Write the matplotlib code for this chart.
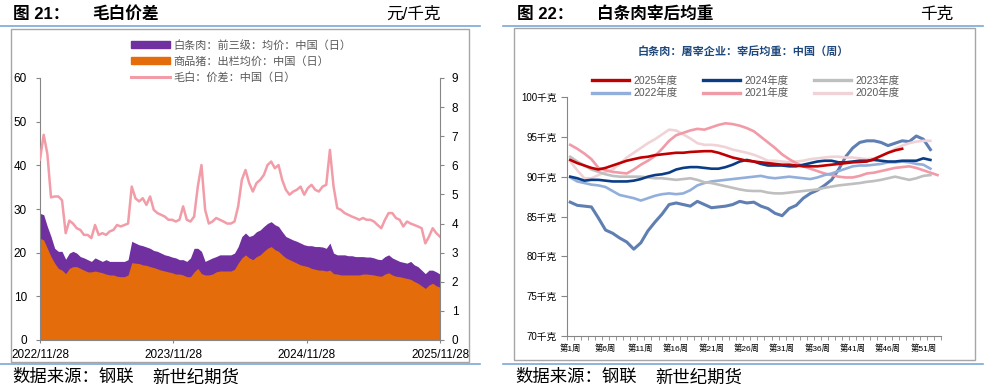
import matplotlib
matplotlib.use('Agg')
import matplotlib.pyplot as plt
import matplotlib.dates as mdates
import matplotlib.patches as mpatches
from matplotlib.lines import Line2D
import numpy as np
import pandas as pd

plt.rcParams['font.family'] = ['Liberation Sans', 'Noto Sans CJK SC']

# ---------------- data: left chart (元/千克) ----------------
start_date, end_date = '2022-11-28', '2025-11-28'
meat_price = [29.0, 28.7, 26.0, 23.7, 21.0, 20.3, 20.3, 18.5, 19.9, 20.3,
              19.9, 19.1, 18.8, 18.4, 18.0, 18.8, 18.4, 18.0, 18.4, 18.0,
              18.0, 18.0, 18.0, 18.0, 18.4, 22.6, 22.2, 21.8, 21.6, 21.3,
              21.0, 20.5, 20.3, 19.9, 19.5, 19.3, 19.0, 18.8, 18.4, 18.4,
              18.0, 18.8, 21.0, 21.0, 20.3, 18.0, 18.4, 18.8, 19.1, 19.5,
              19.5, 19.5, 19.5, 19.9, 21.4, 23.7, 24.5, 23.7, 24.0, 24.8,
              25.2, 26.0, 26.7, 27.1, 26.4, 26.0, 24.8, 23.7, 23.3, 22.9,
              22.6, 22.2, 21.8, 21.6, 21.6, 21.4, 21.4, 21.3, 21.0, 22.2,
              19.9, 19.5, 19.5, 19.5, 19.3, 19.3, 19.1, 19.1, 19.1, 19.0,
              19.0, 18.8, 18.5, 18.4, 19.1, 19.5, 18.8, 18.4, 18.0, 17.8,
              17.6, 18.0, 17.2, 16.8, 16.0, 15.2, 16.0, 16.0, 15.6, 15.1]
hog_price = [23.3, 22.9, 21.0, 19.1, 17.6, 16.4, 16.0, 15.2, 16.4, 16.8,
             16.8, 16.4, 16.0, 15.6, 15.6, 15.8, 15.6, 15.4, 15.1, 14.9,
             14.9, 14.6, 14.5, 14.5, 14.9, 17.7, 17.6, 17.5, 17.2, 17.1,
             16.8, 16.6, 16.3, 16.0, 15.8, 15.6, 15.4, 15.1, 15.1, 14.9,
             14.5, 14.5, 15.6, 16.4, 15.2, 14.9, 14.9, 15.1, 15.6, 15.8,
             15.8, 15.8, 15.8, 16.2, 17.6, 18.8, 19.5, 18.8, 18.4, 19.1,
             19.5, 20.3, 21.0, 21.4, 20.7, 20.3, 19.5, 18.8, 18.4, 18.0,
             17.6, 17.2, 17.0, 16.8, 16.4, 16.2, 16.0, 16.0, 15.8, 16.0,
             15.2, 15.1, 14.9, 14.9, 14.9, 14.9, 14.9, 14.9, 15.1, 15.1,
             15.0, 14.9, 14.7, 14.6, 15.1, 15.4, 14.9, 14.6, 14.5, 14.3,
             14.1, 13.9, 13.4, 13.0, 12.4, 11.8, 12.6, 13.0, 12.4, 12.1]
spread = [6.2, 7.05, 6.4, 4.9, 4.93, 4.93, 4.8, 3.67, 4.1, 4.0,
          3.84, 3.78, 3.61, 3.61, 3.5, 3.95, 3.61, 3.67, 3.61, 3.73,
          3.78, 3.95, 3.9, 3.95, 4.0, 5.27, 4.87, 4.76, 4.87, 4.64,
          4.93, 4.47, 4.36, 4.3, 4.24, 4.13, 4.13, 4.07, 4.13, 4.59,
          4.13, 4.07, 4.24, 5.27, 6.01, 4.47, 4.0, 4.07, 4.19, 4.13,
          4.07, 4.0, 4.0, 4.07, 4.59, 5.5, 5.84, 5.39, 5.1, 5.39,
          5.5, 5.67, 6.01, 6.13, 5.9, 6.01, 5.5, 5.16, 4.99, 5.1,
          5.16, 5.27, 4.99, 5.22, 5.33, 5.16, 5.1, 5.27, 5.33, 6.53,
          5.27, 4.53, 4.47, 4.36, 4.3, 4.24, 4.19, 4.13, 4.19, 4.13,
          4.13, 4.07, 3.95, 3.84, 4.13, 4.36, 4.36, 4.19, 4.13, 3.9,
          4.07, 4.0, 3.95, 3.9, 3.84, 3.32, 3.55, 3.84, 3.67, 3.55]
left_xticks = ['2022-11-28', '2023-11-28', '2024-11-28', '2025-11-28']
left_yticks = [0, 10, 20, 30, 40, 50, 60]
right_yticks = [0, 1, 2, 3, 4, 5, 6, 7, 8, 9]
left_labels = ['白条肉：前三级：均价：中国（日）', '商品猪：出栏均价：中国（日）', '毛白：价差：中国（日）']

# ---------------- data: right chart (千克, by week) ----------------
w2025 = [92.1, 91.7, 91.4, 91.1, 90.9, 91.1, 91.4, 91.7, 92.0, 92.2, 92.4, 92.5, 92.7, 92.8, 92.9, 93.0,
         93.0, 93.1, 93.15, 93.2, 93.2, 93.0, 92.7, 92.4, 92.2, 92.0, 91.9, 91.8, 91.7, 91.6, 91.5, 91.5,
         91.4, 91.3, 91.3, 91.3, 91.4, 91.5, 91.6, 91.7, 91.8, 91.85, 91.9, 92.2, 92.6, 93.0, 93.3, 93.5]
w2024 = [90.0, 89.8, 89.5, 89.6, 89.6, 89.5, 89.4, 89.4, 89.4, 89.5, 89.7, 90.0, 90.2, 90.3, 90.5, 90.9,
         91.1, 91.2, 91.2, 91.1, 91.0, 91.0, 91.2, 91.5, 91.9, 92.1, 91.9, 91.6, 91.4, 91.4, 91.4, 91.3,
         91.3, 91.5, 91.7, 91.9, 92.0, 92.0, 91.8, 91.8, 91.9, 92.0, 92.0, 92.1, 92.0, 91.9, 91.9, 92.0,
         92.0, 92.0, 92.3, 92.1]
w2023 = [92.5, 91.9, 91.4, 90.9, 90.6, 90.3, 90.1, 90.0, 90.0, 90.0, 90.0, 89.9, 89.8, 89.8, 89.7, 89.6,
         89.7, 89.8, 89.6, 89.3, 89.2, 89.0, 88.8, 88.6, 88.4, 88.25, 88.2, 88.2, 88.0, 87.9, 87.9, 88.0,
         88.1, 88.2, 88.3, 88.4, 88.6, 88.75, 88.9, 89.0, 89.1, 89.2, 89.35, 89.45, 89.6, 89.8, 90.0, 89.8,
         89.6, 89.8, 90.1, 90.2]
w2022 = [89.9, 89.4, 89.2, 89.0, 88.9, 88.7, 88.2, 87.7, 87.5, 87.3, 87.0, 87.3, 87.6, 87.8, 87.9, 87.8,
         87.9, 88.3, 88.9, 89.2, 89.4, 89.5, 89.6, 89.7, 89.8, 89.9, 90.0, 90.1, 89.9, 89.8, 89.9, 90.0,
         89.9, 89.8, 89.7, 89.9, 90.2, 90.4, 90.7, 91.0, 91.3, 91.4, 91.4, 91.5, 91.6, 91.8, 91.8, 91.9,
         91.8, 91.6, 91.5, 91.0]
w2021 = [94.0, 93.5, 92.9, 92.2, 91.1, 90.8, 90.6, 90.5, 90.4, 90.9, 91.5, 92.0, 92.6, 93.5, 94.5, 95.2,
         95.5, 95.8, 96.0, 95.9, 96.2, 96.5, 96.7, 96.6, 96.4, 96.1, 95.7, 95.0, 94.3, 93.6, 92.8, 92.2,
         91.7, 91.3, 91.0, 90.7, 90.4, 90.2, 90.0, 89.9, 89.9, 90.1, 90.4, 90.5, 90.7, 90.9, 91.1, 91.2,
         91.3, 91.1, 90.8, 90.5, 90.2]
w2020 = [91.9, 90.8, 89.8, 89.8, 90.2, 90.6, 90.9, 91.6, 92.4, 93.0, 93.6, 94.2, 94.7, 95.3, 95.9, 95.8,
         95.3, 94.8, 94.2, 94.0, 94.0, 93.9, 93.7, 93.4, 93.2, 93.0, 92.75, 92.4, 92.0, 92.0, 91.9, 91.8,
         91.9, 92.0, 92.2, 92.3, 92.4, 92.5, 92.5, 92.4, 92.4, 92.3, 92.2, 92.3, 92.6, 93.0, 93.5, 93.9,
         94.2, 94.4, 94.5, 94.5]
w2019 = [86.8, 86.4, 86.3, 86.2, 84.8, 83.3, 82.9, 82.3, 81.8, 80.9, 81.7, 83.2, 84.3, 85.3, 86.5, 86.7,
         86.5, 86.3, 86.9, 86.5, 86.1, 86.2, 86.3, 86.5, 86.9, 86.7, 86.8, 86.3, 86.0, 85.4, 85.1, 86.0,
         86.4, 87.3, 87.9, 88.3, 88.9, 89.6, 90.9, 92.5, 93.6, 94.3, 94.5, 94.5, 94.3, 93.9, 94.2, 94.5,
         94.4, 95.1, 94.7, 93.4]
n_weeks = 53
week_label_idx = [1, 6, 11, 16, 21, 26, 31, 36, 41, 46, 51]
right_yticks2 = [70, 75, 80, 85, 90, 95, 100]

W, H = 995, 384
fig = plt.figure(figsize=(W / 100, H / 100), dpi=100)


def fx(x):
    return x / W


def fy(y):
    return 1 - y / H


def box(x0, y0, x1, y1):
    return [fx(x0), fy(y1), fx(x1) - fx(x0), fy(y0) - fy(y1)]


# ---------- frame decorations ----------
hdr_blue = '#7BA7D6'
for (a, b) in [(0, 480), (503, 983)]:
    fig.add_artist(Line2D([fx(a), fx(b)], [fy(26), fy(26)], color=hdr_blue, lw=1.2))
    fig.add_artist(Line2D([fx(a), fx(b)], [fy(364), fy(364)], color=hdr_blue, lw=1.2))
fig.add_artist(mpatches.Rectangle((fx(11), fy(362)), fx(469) - fx(11), fy(29) - fy(362),
                                  fill=False, ec='#A6A6A6', lw=1.0))
fig.add_artist(mpatches.Rectangle((fx(514), fy(360)), fx(975) - fx(514), fy(28) - fy(360),
                                  fill=False, ec='#A6A6A6', lw=1.0))

hfs = 12
fig.text(fx(13), fy(14), '图 21：', fontsize=hfs, weight='bold', va='center', ha='left')
fig.text(fx(92), fy(14), '毛白价差', fontsize=hfs, weight='bold', va='center', ha='left')
fig.text(fx(441), fy(14), '元/千克', fontsize=hfs, va='center', ha='right')
fig.text(fx(517), fy(14), '图 22：', fontsize=hfs, weight='bold', va='center', ha='left')
fig.text(fx(597), fy(14), '白条肉宰后均重', fontsize=hfs, weight='bold', va='center', ha='left')
fig.text(fx(953), fy(14), '千克', fontsize=hfs, va='center', ha='right')
for x0 in (12, 515):
    fig.text(fx(x0), fy(377), '数据来源：钢联', fontsize=12.5, va='center', ha='left')
    fig.text(fx(x0 + 140), fy(377), '新世纪期货', fontsize=12.5, va='center', ha='left')

# ---------- left chart ----------
purple, orange, pink = '#7030A0', '#E46C0A', '#F29CA8'
axis_gray = '#868686'
dates = pd.date_range(start_date, end_date, periods=len(meat_price))

ax1 = fig.add_axes(box(40, 78, 440, 340))
ax1.fill_between(dates, 0, meat_price, color=purple, lw=0)
ax1.fill_between(dates, 0, hog_price, color=orange, lw=0)
ax1.set_xlim(pd.Timestamp(start_date), pd.Timestamp(end_date))
ax1.set_ylim(0, 60)
ax1.set_yticks(left_yticks)
xt = pd.to_datetime(left_xticks)
ax1.set_xticks(xt)
ax1.set_xticklabels([d.strftime('%Y/%m/%d') for d in xt])
ax1.tick_params(axis='y', direction='out', length=3, color=axis_gray, labelsize=8.5, pad=6.5)
ax1.tick_params(axis='x', direction='out', length=2.5, color=axis_gray, labelsize=8.5, pad=4)
for s in ['top', 'right']:
    ax1.spines[s].set_visible(False)
for s in ['left', 'bottom']:
    ax1.spines[s].set_color(axis_gray)

ax1r = ax1.twinx()
ax1r.plot(dates, spread, color=pink, lw=1.8)
ax1r.set_ylim(0, 9)
ax1r.set_yticks(right_yticks)
ax1r.tick_params(axis='y', direction='out', length=3, color=axis_gray, labelsize=8.5, pad=5.5)
for s in ['top', 'left', 'bottom']:
    ax1r.spines[s].set_visible(False)
ax1r.spines['right'].set_color(axis_gray)
ax1r.set_xlim(pd.Timestamp(start_date), pd.Timestamp(end_date))

h1 = [mpatches.Patch(color=purple), mpatches.Patch(color=orange), Line2D([], [], color=pink, lw=2.2)]
fig.legend(h1, left_labels, loc='upper left', bbox_to_anchor=(fx(131), fy(40)),
           frameon=False, fontsize=8, labelcolor='#595959', handlelength=3.5, handleheight=0.6,
           handletextpad=0.3, labelspacing=0.48, borderpad=0, borderaxespad=0)

# ---------- right chart ----------
ax2 = fig.add_axes(box(566.7, 97, 941, 336))
series = [
    (w2019, '#5F7FB3', 2.2, None),
    (w2020, '#F0D3D7', 1.9, '2020年度'),
    (w2021, '#F19AA8', 1.9, '2021年度'),
    (w2022, '#92AEDB', 1.9, '2022年度'),
    (w2023, '#BFBFBF', 1.9, '2023年度'),
    (w2024, '#0B3D86', 1.9, '2024年度'),
    (w2025, '#C00000', 1.9, '2025年度'),
]
handles = {}
for vals, col, lw, lab in series:
    wk = np.arange(1, len(vals) + 1)
    ax2.plot(wk, vals, color=col, lw=lw)
    if lab:
        handles[lab] = Line2D([], [], color=col, lw=2.4)
ax2.set_xlim(0.5, n_weeks + 0.5)
ax2.set_ylim(70, 100)
ax2.set_yticks(right_yticks2)
ax2.set_yticklabels([f'{v}千克' for v in right_yticks2])
ax2.set_xticks(np.arange(0.5, n_weeks + 1.0, 1.0), minor=True)
ax2.set_xticks(week_label_idx)
ax2.set_xticklabels([f'第{w}周' for w in week_label_idx])
ax2.tick_params(axis='x', which='major', length=0, labelsize=6, pad=6)
ax2.tick_params(axis='x', which='minor', length=3, color=axis_gray, direction='out')
ax2.tick_params(axis='y', length=4, color=axis_gray, direction='out', labelsize=7, pad=3)
for s in ['top', 'right']:
    ax2.spines[s].set_visible(False)
for s in ['left', 'bottom']:
    ax2.spines[s].set_color(axis_gray)

fig.text(fx(743), fy(51), '白条肉：屠宰企业：宰后均重：中国（周）', fontsize=8, weight='bold',
         color='#1F497D', ha='center', va='center')
order = ['2025年度', '2022年度', '2024年度', '2021年度', '2023年度', '2020年度']
fig.legend([handles[k] for k in order], order, loc='upper left', bbox_to_anchor=(fx(592), fy(76)),
           ncol=3, frameon=False, fontsize=7.5, labelcolor='#595959', handlelength=3.6,
           handletextpad=0.4, columnspacing=2.4, labelspacing=0.2, borderpad=0, borderaxespad=0)

fig.savefig('out.png', dpi=100)
